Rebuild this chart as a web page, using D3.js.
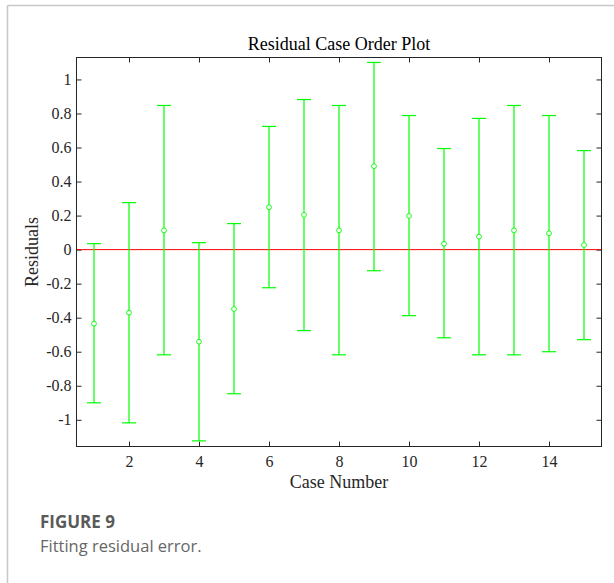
<!DOCTYPE html>
<html>
<head>
<meta charset="utf-8">
<script src="https://cdnjs.cloudflare.com/ajax/libs/d3/7.8.5/d3.min.js"></script>
<style>
	body{
	    margin:0;
	    background-color: white;
	}
	svg text{
	    font-family: "Liberation Serif", "Times New Roman", serif;
	}
</style>
</head>
<body>
<svg id="chart" width="614" height="583"></svg>
<script>
	// values
	var caseNo   = [1, 2, 3, 4, 5, 6, 7, 8, 9, 10, 11, 12, 13, 14, 15];
	var residual = [-0.435, -0.37, 0.113, -0.541, -0.349, 0.249, 0.204, 0.113, 0.49, 0.198, 0.035, 0.076, 0.113, 0.096, 0.027];
	var lower    = [-0.90, -1.018, -0.618, -1.124, -0.847, -0.224, -0.476, -0.618, -0.124, -0.388, -0.518, -0.618, -0.618, -0.600, -0.529];
	var upper    = [0.035, 0.276, 0.847, 0.041, 0.153, 0.724, 0.882, 0.847, 1.10, 0.788, 0.594, 0.771, 0.847, 0.788, 0.582];
	var xTicks   = [2, 4, 6, 8, 10, 12, 14];
	var yTicks   = [-1, -0.8, -0.6, -0.4, -0.2, 0, 0.2, 0.4, 0.6, 0.8, 1];

	var GREEN = "#00ff00";
	var SERIF = "'Liberation Serif', 'Times New Roman', serif";
	var LEFT = 76.5, RIGHT = 601.5, TOP = 57.5, BOTTOM = 446.5;

	var svg = d3.select("#chart");

	// page frame lines (top + left)
	svg.append("line").attr("x1", 7.5).attr("y1", 5.5).attr("x2", 614).attr("y2", 5.5)
		.attr("stroke", "#c8c8c8").attr("stroke-width", 1.5);
	svg.append("line").attr("x1", 7.5).attr("y1", 5.5).attr("x2", 7.5).attr("y2", 583)
		.attr("stroke", "#c8c8c8").attr("stroke-width", 1.5);

	var x = d3.scaleLinear().domain([0.5, 15.5]).range([LEFT, RIGHT]);
	var y = d3.scaleLinear().domain([-1.157, 1.129]).range([BOTTOM, TOP]);

	var fmt = function(d){ return d === 0 ? "0" : String(+d.toFixed(1)); };

	// axes, ticks pointing inward
	var gx = svg.append("g").attr("transform", "translate(0," + BOTTOM + ")")
		.call(d3.axisBottom(x).tickValues(xTicks).tickSizeInner(-5).tickSizeOuter(0).tickPadding(9));
	var gxTop = svg.append("g").attr("transform", "translate(0," + TOP + ")")
		.call(d3.axisTop(x).tickValues(xTicks).tickSizeInner(-5).tickSizeOuter(0).tickFormat(""));
	var gy = svg.append("g").attr("transform", "translate(" + LEFT + ",0)")
		.call(d3.axisLeft(y).tickValues(yTicks).tickFormat(fmt).tickSizeInner(-5).tickSizeOuter(0).tickPadding(5));
	var gyRight = svg.append("g").attr("transform", "translate(" + RIGHT + ",0)")
		.call(d3.axisRight(y).tickValues(yTicks).tickSizeInner(-5).tickSizeOuter(0).tickFormat(""));

	[gx, gxTop, gy, gyRight].forEach(function(g){
		g.attr("font-family", SERIF).attr("font-size", 16);
		g.select(".domain").remove();
		g.selectAll("line").attr("stroke", "#262626");
		g.selectAll("text")
			.attr("font-family", SERIF)
			.style("font-family", SERIF)
			.style("font-size", "16px")
			.attr("fill", "#262626");
	});

	// zero line
	svg.append("line")
		.attr("x1", LEFT).attr("x2", RIGHT)
		.attr("y1", y(0)).attr("y2", y(0))
		.attr("stroke", "#ff0000").attr("stroke-width", 1);

	// error bars
	var rows = caseNo.map(function(c, i){
		return {c: c, r: residual[i], lo: lower[i], hi: upper[i]};
	});
	var capW = 7;
	var bars = svg.append("g").selectAll("g").data(rows).enter().append("g");
	bars.append("line")
		.attr("x1", function(d){ return x(d.c); }).attr("x2", function(d){ return x(d.c); })
		.attr("y1", function(d){ return y(d.lo); }).attr("y2", function(d){ return y(d.hi); })
		.attr("stroke", GREEN).attr("stroke-width", 1.2);
	bars.append("line")
		.attr("x1", function(d){ return x(d.c) - capW; }).attr("x2", function(d){ return x(d.c) + capW; })
		.attr("y1", function(d){ return y(d.hi); }).attr("y2", function(d){ return y(d.hi); })
		.attr("stroke", GREEN).attr("stroke-width", 1.2);
	bars.append("line")
		.attr("x1", function(d){ return x(d.c) - capW; }).attr("x2", function(d){ return x(d.c) + capW; })
		.attr("y1", function(d){ return y(d.lo); }).attr("y2", function(d){ return y(d.lo); })
		.attr("stroke", GREEN).attr("stroke-width", 1.2);
	bars.append("circle")
		.attr("cx", function(d){ return x(d.c); })
		.attr("cy", function(d){ return y(d.r); })
		.attr("r", 2.4)
		.attr("fill", "white")
		.attr("stroke", GREEN).attr("stroke-width", 0.9);

	// axes box
	svg.append("rect")
		.attr("x", LEFT).attr("y", TOP)
		.attr("width", RIGHT - LEFT).attr("height", BOTTOM - TOP)
		.attr("fill", "none").attr("stroke", "#262626").attr("stroke-width", 1);

	// titles
	svg.append("text")
		.attr("x", (LEFT + RIGHT) / 2).attr("y", 50)
		.attr("text-anchor", "middle")
		.style("font-size", "18px").attr("fill", "#000")
		.text("Residual Case Order Plot");
	svg.append("text")
		.attr("x", (LEFT + RIGHT) / 2).attr("y", 488)
		.attr("text-anchor", "middle")
		.style("font-size", "18px").attr("fill", "#262626")
		.text("Case Number");
	svg.append("text")
		.attr("transform", "translate(38," + ((TOP + BOTTOM) / 2) + ") rotate(-90)")
		.attr("text-anchor", "middle")
		.style("font-size", "18px").attr("fill", "#262626")
		.text("Residuals");

	// caption
	svg.append("text")
		.attr("x", 40).attr("y", 528)
		.style("font-family", "'Open Sans', 'Noto Sans', sans-serif")
		.style("font-size", "17px").style("font-weight", "bold")
		.attr("fill", "#5a5a5a")
		.text("FIGURE 9");
	svg.append("text")
		.attr("x", 40).attr("y", 552)
		.style("font-family", "'Open Sans', 'Noto Sans', sans-serif")
		.style("font-size", "16.5px")
		.attr("fill", "#666")
		.text("Fitting residual error.");
</script>
</body>
</html>
